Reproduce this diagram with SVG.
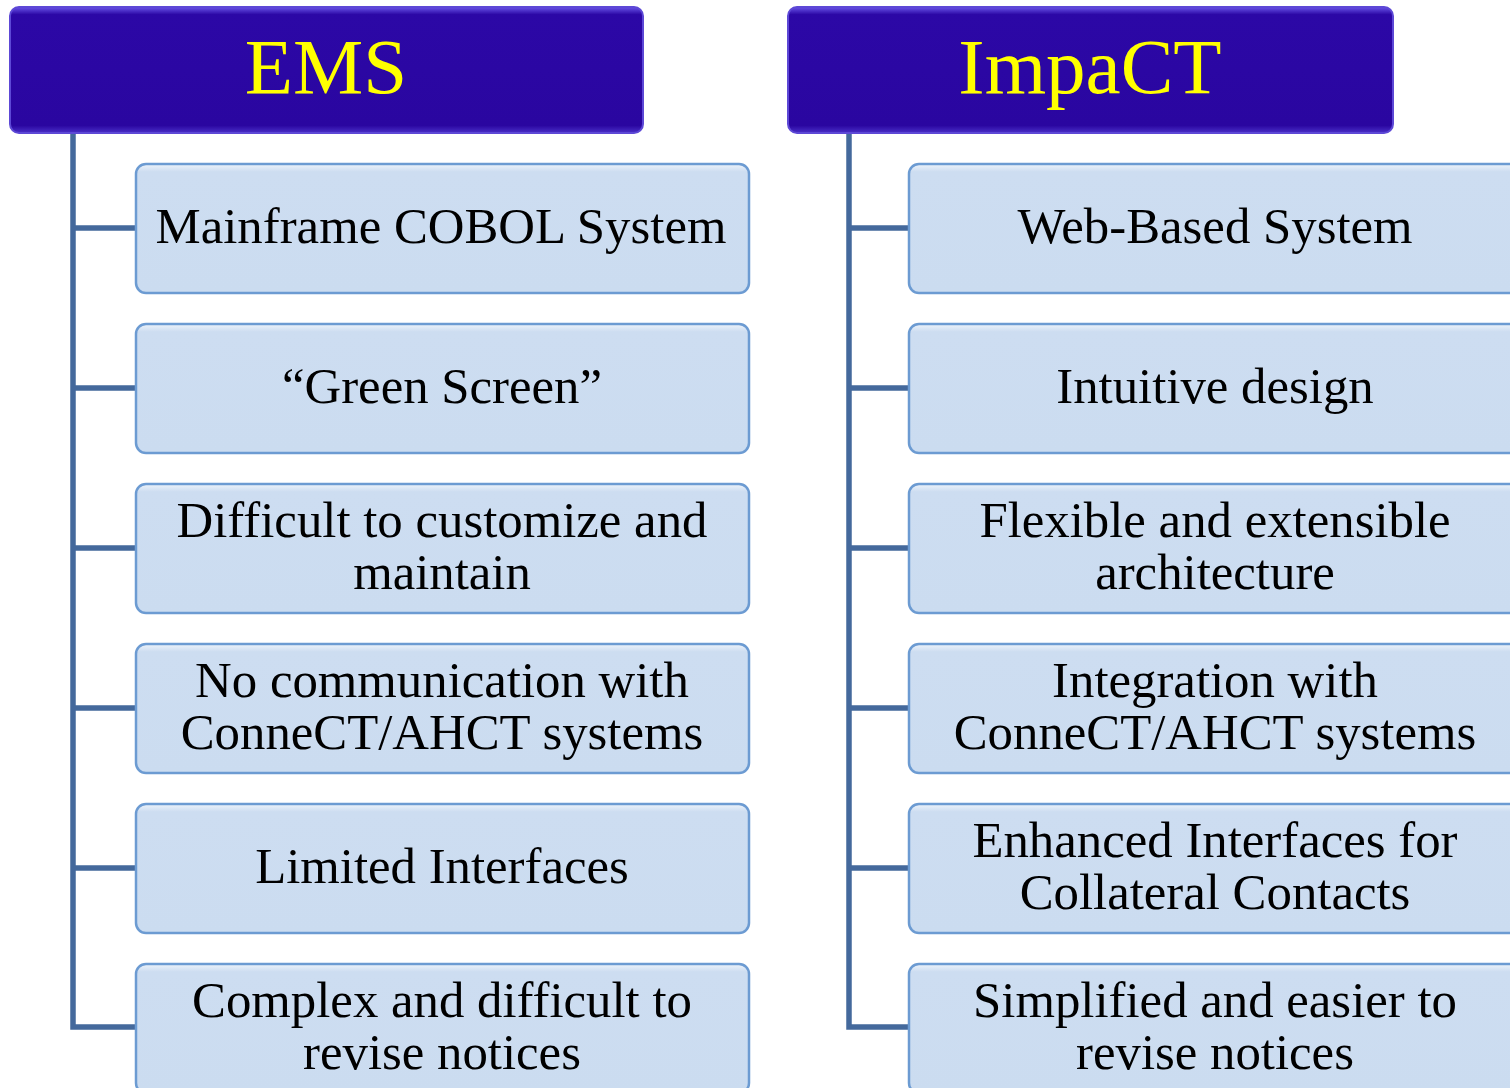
<svg xmlns="http://www.w3.org/2000/svg" width="1510" height="1088" viewBox="0 0 1510 1088">
<defs>
<linearGradient id="hdrg" x1="0" y1="0" x2="0" y2="1">
<stop offset="0" stop-color="#6a55e8"/>
<stop offset="0.06" stop-color="#2c08a6"/>
<stop offset="0.94" stop-color="#2a06a0"/>
<stop offset="1" stop-color="#4a30c8"/>
</linearGradient>
<linearGradient id="boxg" x1="0" y1="0" x2="0" y2="1">
<stop offset="0" stop-color="#eef4fb"/>
<stop offset="0.06" stop-color="#cdddf1"/>
<stop offset="1" stop-color="#cbdcf0"/>
</linearGradient>
</defs>
<style>
.hdr{fill:url(#hdrg);stroke:#5d48d6;stroke-width:2}
.hdrt{font-family:"Liberation Serif","Times New Roman",serif;font-size:79px;fill:#ffff00;text-anchor:middle}
.box{fill:url(#boxg);stroke:#6c9bd2;stroke-width:2.5}
.bt{font-family:"Liberation Serif","Times New Roman",serif;font-size:50.8px;fill:#000;text-anchor:middle}
.con{fill:none;stroke:#44699c;stroke-width:5.5;stroke-linejoin:miter;stroke-linecap:butt}
</style>
<rect width="1510" height="1088" fill="#ffffff"/>
<g id="connectors">
<path class="con" d="M73,133 V1027 H136 M73,228 H136 M73,388 H136 M73,548 H136 M73,708 H136 M73,868 H136"/>
<path class="con" d="M849,133 V1027 H909 M849,228 H909 M849,388 H909 M849,548 H909 M849,708 H909 M849,868 H909"/>
</g>
<g id="ems">
<rect class="hdr" x="10" y="7" width="633" height="126" rx="9"/>
<text class="hdrt" x="326" y="93">EMS</text>
</g>
<g id="impact">
<rect class="hdr" x="788" y="7" width="605" height="126" rx="9"/>
<text class="hdrt" x="1090" y="93">ImpaCT</text>
</g>
<g id="ems1">
<rect class="box" x="136" y="164" width="613" height="129" rx="10"/>
<text class="bt" x="441" y="243">Mainframe COBOL System</text>
</g>
<g id="ems2">
<rect class="box" x="136" y="324" width="613" height="129" rx="10"/>
<text class="bt" x="442" y="403">“Green Screen”</text>
</g>
<g id="ems3">
<rect class="box" x="136" y="484" width="613" height="129" rx="10"/>
<text class="bt" x="442" y="537">Difficult to customize and</text>
<text class="bt" x="442" y="589">maintain</text>
</g>
<g id="ems4">
<rect class="box" x="136" y="644" width="613" height="129" rx="10"/>
<text class="bt" x="442" y="697">No communication with</text>
<text class="bt" x="442" y="749">ConneCT/AHCT systems</text>
</g>
<g id="ems5">
<rect class="box" x="136" y="804" width="613" height="129" rx="10"/>
<text class="bt" x="442" y="883">Limited Interfaces</text>
</g>
<g id="ems6">
<rect class="box" x="136" y="964" width="613" height="129" rx="10"/>
<text class="bt" x="442" y="1017">Complex and difficult to</text>
<text class="bt" x="442" y="1069">revise notices</text>
</g>
<g id="imp1">
<rect class="box" x="909" y="164" width="613" height="129" rx="10"/>
<text class="bt" x="1215" y="243">Web-Based System</text>
</g>
<g id="imp2">
<rect class="box" x="909" y="324" width="613" height="129" rx="10"/>
<text class="bt" x="1215" y="403">Intuitive design</text>
</g>
<g id="imp3">
<rect class="box" x="909" y="484" width="613" height="129" rx="10"/>
<text class="bt" x="1215" y="537">Flexible and extensible</text>
<text class="bt" x="1215" y="589">architecture</text>
</g>
<g id="imp4">
<rect class="box" x="909" y="644" width="613" height="129" rx="10"/>
<text class="bt" x="1215" y="697">Integration with</text>
<text class="bt" x="1215" y="749">ConneCT/AHCT systems</text>
</g>
<g id="imp5">
<rect class="box" x="909" y="804" width="613" height="129" rx="10"/>
<text class="bt" x="1215" y="857">Enhanced Interfaces for</text>
<text class="bt" x="1215" y="909">Collateral Contacts</text>
</g>
<g id="imp6">
<rect class="box" x="909" y="964" width="613" height="129" rx="10"/>
<text class="bt" x="1215" y="1017">Simplified and easier to</text>
<text class="bt" x="1215" y="1069">revise notices</text>
</g>
</svg>
